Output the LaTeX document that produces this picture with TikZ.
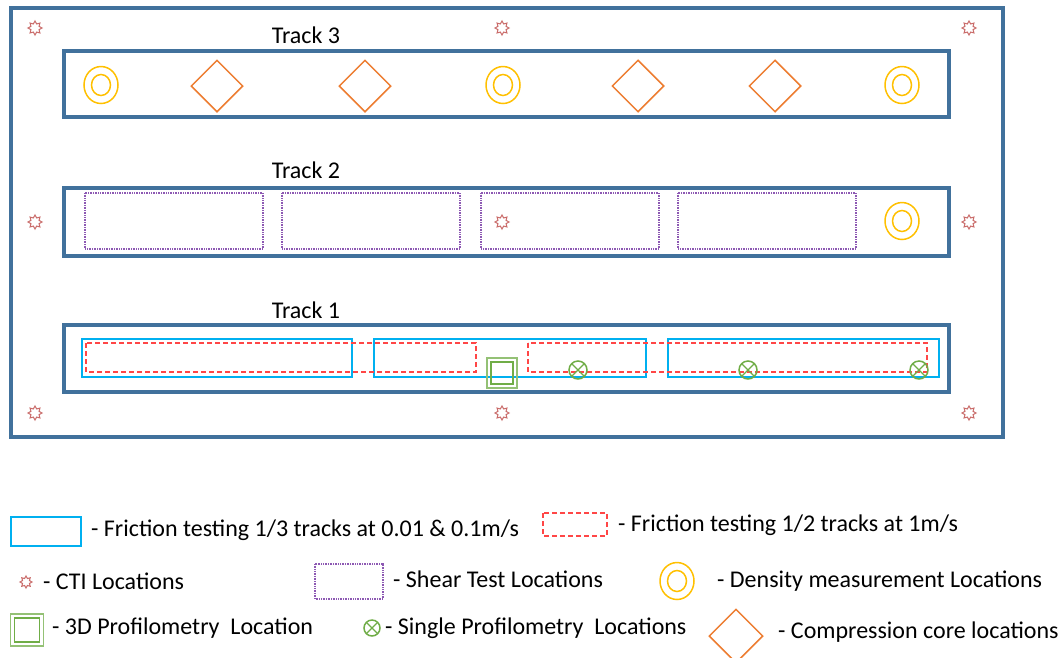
\documentclass[tikz,border=0pt]{standalone}
\usepackage{fontspec}
\setmainfont{Carlito}
\usetikzlibrary{shapes.geometric}

\definecolor{frameblue}{RGB}{65,113,156}
\definecolor{fricblue}{RGB}{0,176,240}
\definecolor{fastred}{RGB}{255,70,70}
\definecolor{shearpurple}{RGB}{112,48,160}
\definecolor{densgold}{RGB}{255,192,0}
\definecolor{coreorange}{RGB}{237,125,49}
\definecolor{profgreen}{RGB}{112,173,71}
\definecolor{ctired}{RGB}{192,80,77}

\tikzset{
  x=1pt, y=-1pt,
  frame/.style={draw=frameblue, line width=3.5pt},
  fric/.style={draw=fricblue, line width=1.5pt},
  fastfric/.style={draw=fastred, line width=1.5pt, dash pattern=on 5pt off 3pt},
  shear/.style={draw=shearpurple!80, line width=1.2pt, dash pattern=on 1pt off 0.7pt},
  cti/.style={star, star points=8, star point ratio=1.6, minimum size=14pt,
    inner sep=0pt, draw=ctired!85, line width=1pt},
  densout/.style={ellipse, draw=densgold, line width=1.5pt, minimum width=34pt,
    minimum height=37pt, inner sep=0pt},
  densin/.style={ellipse, draw=densgold, line width=1.5pt, minimum width=19pt,
    minimum height=21pt, inner sep=0pt},
  density/.pic={\node[densout] (-o) {}; \node[densin] (-i) {};},
  core/.style={diamond, draw=coreorange, line width=1.5pt, minimum width=52pt,
    minimum height=52pt, inner sep=0pt},
  single/.style={circle, draw=profgreen, line width=1.5pt, minimum size=18pt,
    inner sep=0pt, path picture={
      \draw[profgreen, line width=1.2pt]
        (path picture bounding box.north west) -- (path picture bounding box.south east)
        (path picture bounding box.north east) -- (path picture bounding box.south west);}},
  prof3d/.style={draw=profgreen!75, line width=1.5pt, inner sep=0pt},
  label/.style={font=\fontsize{24}{28}\selectfont, text=black, inner sep=0pt},
  legtext/.style={label, anchor=west},
}

\begin{document}
\begin{tikzpicture}
\useasboundingbox[fill=white] (0,0) rectangle (1062,657);

% site outline and the three tracks
\draw[frame] (11,8) rectangle (1003,437);
\draw[frame] (64,51) rectangle (949,117);
\draw[frame] (64,188) rectangle (949,256);
\draw[frame] (64,325) rectangle (949,392);

\node[label] (t3) at (306,35) {Track 3};
\node[label] (t2) at (306,170) {Track 2};
\node[label] (t1) at (306,310) {Track 1};

% CTI locations
\foreach \px/\py [count=\i] in {35/28, 502/28, 969/28, 35/222, 502/222, 969/222, 35/413, 502/413, 969/413}
  \node[cti] (cti\i) at (\px,\py) {};

% Track 3: density and compression cores
\pic (d1) at (101,85) {density};
\pic (d2) at (503,85) {density};
\pic (d3) at (902,85) {density};
\node[core] (c1) at (217,86) {};
\node[core] (c2) at (365,86) {};
\node[core] (c3) at (638,86) {};
\node[core] (c4) at (775,86) {};

% Track 2: shear tests and density
\draw[shear] (85,193) rectangle (263,249);
\draw[shear] (282,193) rectangle (460,249);
\draw[shear] (481,193) rectangle (659,249);
\draw[shear] (678,193) rectangle (856,249);
\pic (d4) at (902,221) {density};

% Track 1: friction runs and profilometry
\draw[fric] (82,339) rectangle (352,377);
\draw[fric] (374,339) rectangle (646,377);
\draw[fric] (668,339) rectangle (939,377);
\draw[fastfric] (86,343) rectangle (476,372);
\draw[fastfric] (528,343) rectangle (927,372);
\node[prof3d, minimum size=30pt] (p3o) at (502,373) {};
\node[prof3d, draw=profgreen, minimum size=22pt] (p3i) at (502,373) {};
\node[single] (s1) at (578,370) {};
\node[single] (s2) at (748,370) {};
\node[single] (s3) at (919,370) {};

% legend
\draw[fric] (11,517) rectangle (81,546);
\node[legtext] (l1) at (91,530) {- Friction testing 1/3 tracks at 0.01 \& 0.1m/s};
\draw[fastfric] (543,513) rectangle (607,536);
\node[legtext] (l2) at (618,525) {- Friction testing 1/2 tracks at 1m/s};

\node[cti, minimum size=12pt] (lcti) at (26,582) {};
\node[legtext] (l3) at (43,581) {- CTI Locations};
\draw[shear] (315,564) rectangle (383,599);
\node[legtext] (l4) at (393,579) {- Shear Test Locations};
\pic (ld) at (677,581) {density};
\node[legtext] (l5) at (717,581) {- Density measurement Locations};

\node[prof3d, minimum width=33pt, minimum height=32pt] (lp3o) at (27,630) {};
\node[prof3d, draw=profgreen, minimum width=25pt, minimum height=24pt] (lp3i) at (27,630) {};
\node[legtext] (l6) at (52,628) {- 3D Profilometry\ \ Location};
\node[single, minimum size=16pt] (ls) at (372,628) {};
\node[legtext] (l7) at (385,628) {- Single Profilometry\ \ Locations};
\node[core, minimum width=54pt, minimum height=54pt] (lc) at (736,636) {};
\node[legtext] (l8) at (778,632) {- Compression core locations};
\end{tikzpicture}
\end{document}
